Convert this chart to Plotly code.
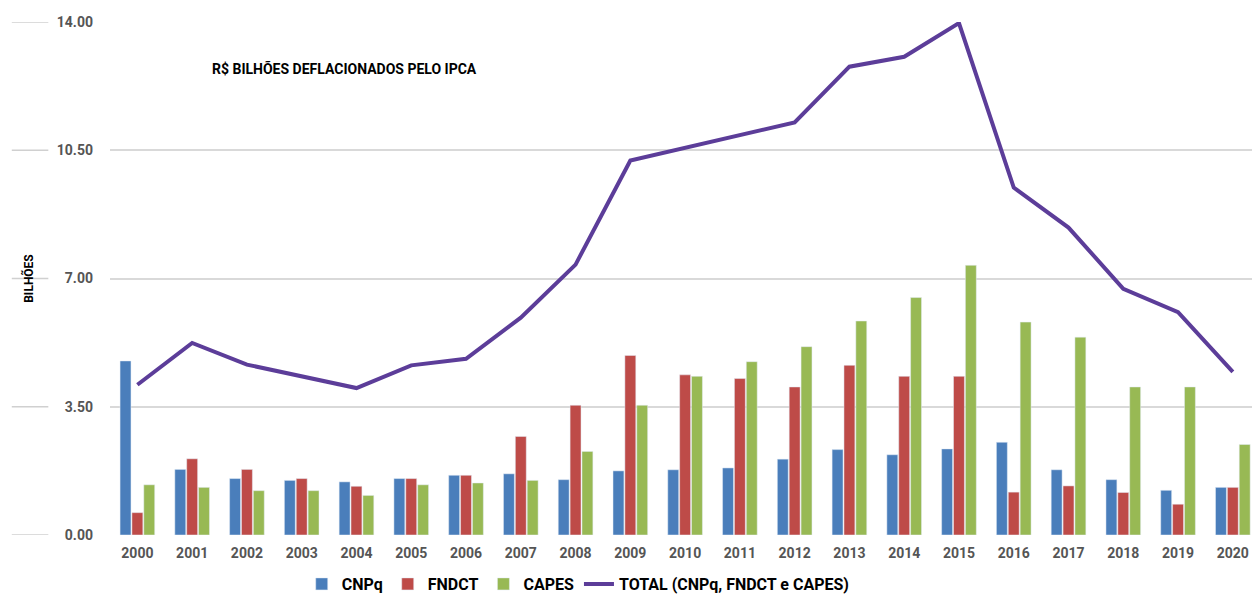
import plotly.graph_objects as go

years = [str(y) for y in range(2000, 2021)]
cnpq = [4.75, 1.79, 1.54, 1.49, 1.45, 1.54, 1.63, 1.67, 1.51, 1.75, 1.78,
        1.83, 2.07, 2.33, 2.19, 2.35, 2.53, 1.78, 1.51, 1.22, 1.30]
fndct = [0.61, 2.08, 1.79, 1.54, 1.33, 1.54, 1.63, 2.69, 3.54, 4.90, 4.37,
         4.27, 4.04, 4.63, 4.33, 4.33, 1.17, 1.34, 1.16, 0.84, 1.30]
capes = [1.37, 1.30, 1.21, 1.21, 1.08, 1.37, 1.42, 1.49, 2.28, 3.54, 4.33,
         4.73, 5.14, 5.84, 6.48, 7.36, 5.81, 5.40, 4.04, 4.04, 2.47]
total = [4.10, 5.24, 4.65, 4.33, 4.01, 4.63, 4.81, 5.93, 7.38, 10.22, 10.57,
         10.92, 11.26, 12.78, 13.05, 13.97, 9.48, 8.39, 6.72, 6.08, 4.45]
y_ticks = [0, 3.5, 7, 10.5, 14]

FONT = "Roboto, Liberation Sans, sans-serif"

fig = go.Figure()
fig.add_bar(x=years, y=cnpq, name="<b>CNPq</b>", marker_color="#4A7EBB")
fig.add_bar(x=years, y=fndct, name="<b>FNDCT</b>", marker_color="#BE4B48")
fig.add_bar(x=years, y=capes, name="<b>CAPES</b>", marker_color="#98B954")
fig.add_scatter(x=years, y=total, name="<b>TOTAL (CNPq, FNDCT e CAPES)</b>",
                mode="lines", line=dict(color="#5C3D99", width=4),
                cliponaxis=False)

shapes = []
for t in y_ticks:
    shapes.append(dict(type="line", xref="paper", yref="y",
                       x0=-0.086, x1=-0.054, y0=t, y1=t,
                       line=dict(color="#D0D0D0", width=1.5)))

fig.update_layout(
    width=1252, height=601,
    margin=dict(l=110, r=0, t=22, b=66),
    paper_bgcolor="white", plot_bgcolor="white",
    barmode="group", bargap=0.35, bargroupgap=0.08,
    font=dict(family=FONT, color="#000000"),
    shapes=shapes,
    xaxis=dict(range=[-0.5, 20.35], showgrid=False, showline=False,
               ticks="", ticklabelstandoff=8,
               tickfont=dict(size=14, color="#555555", family=FONT, weight="bold")),
    yaxis=dict(range=[0, 14], tickvals=y_ticks, tickformat=".2f",
               showgrid=True, gridcolor="#D9D9D9", gridwidth=1.5,
               zeroline=False, showline=False, ticks="",
               ticklabelstandoff=16,
               tickfont=dict(size=14, color="#555555", family=FONT, weight="bold"),
               title=dict(text="<b>BILHÕES</b>", font=dict(size=12, color="#000"),
                          standoff=20)),
    legend=dict(orientation="h", x=0.41, xanchor="center",
                yref="container", y=0.0, yanchor="bottom",
                font=dict(size=16, color="#000", family=FONT),
                itemwidth=30, traceorder="normal"),
    annotations=[dict(text="<b>R$ BILHÕES DEFLACIONADOS PELO IPCA</b>",
                      xref="paper", yref="paper", x=0.088, y=0.91,
                      xanchor="left", yanchor="middle", showarrow=False,
                      font=dict(size=14, color="#000", family=FONT))],
)

fig.write_html("out.html")
